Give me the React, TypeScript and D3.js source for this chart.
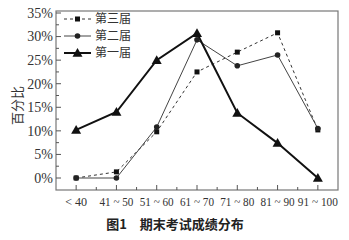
import React from "react";
import * as d3 from "d3";

const categories = ["< 40", "41 ~ 50", "51 ~ 60", "61 ~ 70", "71 ~ 80", "81 ~ 90", "91 ~ 100"];
const yTicks = [0, 5, 10, 15, 20, 25, 30, 35];
const third = [0, 1.3, 9.8, 22.5, 26.7, 30.8, 10.2];
const second = [0, 0, 10.8, 29.3, 23.8, 26.1, 10.5];
const first = [10.2, 14, 25, 30.7, 13.8, 7.4, 0];

const W = 349;
const H = 240;
const left = 56, right = 338, top = 11, bottom = 190;
const serif = "Liberation Serif";
const cjk = "Noto Sans CJK SC";

export default function App() {
  const x = d3.scalePoint<string>().domain(categories).range([left, right]).padding(0.5);
  const y = d3.scaleLinear().domain([0, 35]).range([178, 13]);
  const step = x.step();

  const line = d3
    .line<number>()
    .x((_, i) => x(categories[i])!)
    .y((v) => y(v));

  const xMinor = categories.slice(0, -1).map((c) => x(c)! + step / 2);
  const yMinor = yTicks.slice(0, -1).map((t) => t + 2.5);

  const tri = (cx: number, cy: number, s = 5) =>
    `M${cx},${cy - s} L${cx + s},${cy + s * 0.75} L${cx - s},${cy + s * 0.75} Z`;

  const legend = [
    { name: "第三届", dash: "3,3", w: 1, color: "#333", mk: "sq" },
    { name: "第二届", dash: "", w: 1, color: "#444", mk: "ci" },
    { name: "第一届", dash: "", w: 2, color: "#111", mk: "tr" },
  ];

  return (
    <svg width={W} height={H} style={{ position: "absolute", left: 0, top: 0, background: "#fff" }}>
      <rect x={left} y={top} width={right - left} height={bottom - top} fill="none" stroke="#777" strokeWidth={1.2} />
      {/* y ticks */}
      {yTicks.map((t) => (
        <g key={t}>
          <line x1={left} x2={left + 5} y1={y(t)} y2={y(t)} stroke="#555" />
          <text x={left - 3} y={y(t)} dy="0.35em" textAnchor="end" fontFamily={serif} fontSize={14} fill="#333">
            {t}%
          </text>
        </g>
      ))}
      {yMinor.map((t) => (
        <line key={t} x1={left} x2={left + 3} y1={y(t)} y2={y(t)} stroke="#555" />
      ))}
      {/* x ticks */}
      {categories.map((c, i) => (
        <g key={c}>
          <line x1={x(c)} x2={x(c)} y1={bottom} y2={bottom - 5} stroke="#555" />
          <text
            x={x(c)}
            y={bottom + 16}
            textAnchor="middle"
            fontFamily={serif}
            fontSize={12.5}
            fill="#333"
            textLength={i === 0 ? 22 : i === categories.length - 1 ? 40 : 34}
            lengthAdjust="spacingAndGlyphs"
          >
            {c}
          </text>
        </g>
      ))}
      {xMinor.map((v) => (
        <line key={v} x1={v} x2={v} y1={bottom} y2={bottom - 3} stroke="#555" />
      ))}
      <text
        transform={`translate(22,${(top + bottom) / 2 + 5}) rotate(-90)`}
        textAnchor="middle"
        fontFamily={cjk}
        fontSize={13}
        fill="#333"
      >
        百分比
      </text>

      {/* series */}
      <path d={line(third)!} fill="none" stroke="#333" strokeWidth={1} strokeDasharray="3,3" />
      <path d={line(second)!} fill="none" stroke="#444" strokeWidth={1} />
      <path d={line(first)!} fill="none" stroke="#111" strokeWidth={2} />
      {third.map((v, i) => (
        <rect key={"s" + i} x={x(categories[i])! - 2.5} y={y(v) - 2.5} width={5} height={5} fill="#111" />
      ))}
      {second.map((v, i) => (
        <circle key={"c" + i} cx={x(categories[i])!} cy={y(v)} r={2.8} fill="#222" />
      ))}
      {first.map((v, i) => (
        <path key={"t" + i} d={tri(x(categories[i])!, y(v))} fill="#111" />
      ))}

      {/* legend */}
      {legend.map((l, i) => {
        const ly = 19 + i * 17;
        return (
          <g key={l.name}>
            <line x1={64} x2={91} y1={ly} y2={ly} stroke={l.color} strokeWidth={l.w} strokeDasharray={l.dash} />
            {l.mk === "sq" && <rect x={75} y={ly - 2.5} width={5} height={5} fill="#111" />}
            {l.mk === "ci" && <circle cx={77.5} cy={ly} r={2.8} fill="#222" />}
            {l.mk === "tr" && <path d={tri(77.5, ly)} fill="#111" />}
            <text x={95} y={ly} dy="0.35em" fontFamily={cjk} fontSize={12} fill="#333">
              {l.name}
            </text>
          </g>
        );
      })}

      <text x={175} y={229} textAnchor="middle" fontFamily={cjk} fontSize={13} fontWeight="bold" fill="#222">
        图1　期末考试成绩分布
      </text>
    </svg>
  );
}
